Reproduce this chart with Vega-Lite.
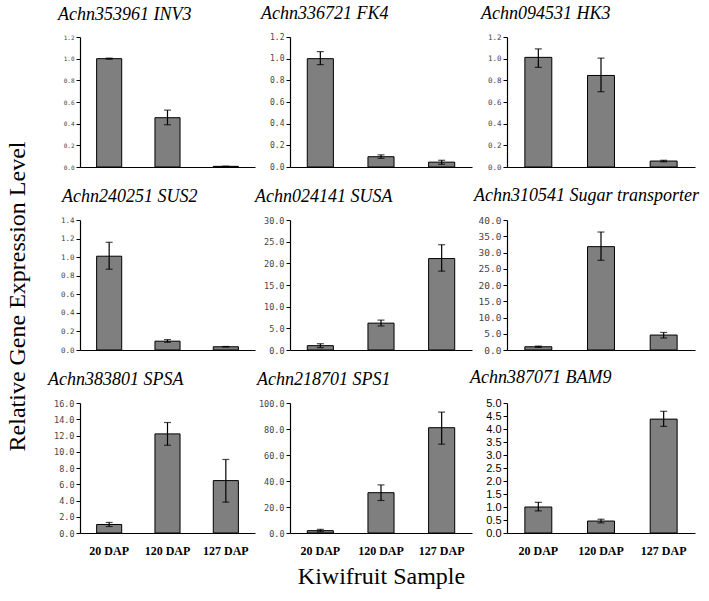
{
  "$schema": "https://vega.github.io/schema/vega-lite/v6.json",
  "background": "white",
  "data": {"values": [
    {"g": "INV3", "s": "20 DAP", "v": 1.0, "lo": 0.995, "hi": 1.005},
    {"g": "INV3", "s": "120 DAP", "v": 0.455, "lo": 0.39, "hi": 0.525},
    {"g": "INV3", "s": "127 DAP", "v": 0.006, "lo": 0.005, "hi": 0.007},
    {"g": "FK4", "s": "20 DAP", "v": 1.0, "lo": 0.945, "hi": 1.065},
    {"g": "FK4", "s": "120 DAP", "v": 0.095, "lo": 0.08, "hi": 0.112},
    {"g": "FK4", "s": "127 DAP", "v": 0.045, "lo": 0.025, "hi": 0.062},
    {"g": "HK3", "s": "20 DAP", "v": 1.012, "lo": 0.92, "hi": 1.09},
    {"g": "HK3", "s": "120 DAP", "v": 0.845, "lo": 0.695, "hi": 1.005},
    {"g": "HK3", "s": "127 DAP", "v": 0.055, "lo": 0.048, "hi": 0.062},
    {"g": "SUS2", "s": "20 DAP", "v": 1.01, "lo": 0.87, "hi": 1.16},
    {"g": "SUS2", "s": "120 DAP", "v": 0.095, "lo": 0.083, "hi": 0.112},
    {"g": "SUS2", "s": "127 DAP", "v": 0.035, "lo": 0.032, "hi": 0.038},
    {"g": "SUSA", "s": "20 DAP", "v": 1.0, "lo": 0.55, "hi": 1.45},
    {"g": "SUSA", "s": "120 DAP", "v": 6.2, "lo": 5.55, "hi": 6.9},
    {"g": "SUSA", "s": "127 DAP", "v": 21.1, "lo": 18.2, "hi": 24.3},
    {"g": "ST", "s": "20 DAP", "v": 1.0, "lo": 0.8, "hi": 1.2},
    {"g": "ST", "s": "120 DAP", "v": 31.8, "lo": 27.6, "hi": 36.3},
    {"g": "ST", "s": "127 DAP", "v": 4.6, "lo": 3.7, "hi": 5.4},
    {"g": "SPSA", "s": "20 DAP", "v": 1.05, "lo": 0.8, "hi": 1.3},
    {"g": "SPSA", "s": "120 DAP", "v": 12.2, "lo": 10.8, "hi": 13.6},
    {"g": "SPSA", "s": "127 DAP", "v": 6.45, "lo": 3.8, "hi": 9.05},
    {"g": "SPS1", "s": "20 DAP", "v": 1.8, "lo": 1.0, "hi": 2.8},
    {"g": "SPS1", "s": "120 DAP", "v": 31.0, "lo": 25.0, "hi": 37.0},
    {"g": "SPS1", "s": "127 DAP", "v": 81.0, "lo": 68.3, "hi": 93.0},
    {"g": "BAM9", "s": "20 DAP", "v": 1.0, "lo": 0.85, "hi": 1.18},
    {"g": "BAM9", "s": "120 DAP", "v": 0.46, "lo": 0.39, "hi": 0.53},
    {"g": "BAM9", "s": "127 DAP", "v": 4.38, "lo": 4.1, "hi": 4.68}
  ]},
  "columns": 3,
  "spacing": {"row": 53, "column": 35},
  "bounds": "flush",
  "concat": [
    {
      "width": 175, "height": 130,
      "title": {"text": "Achn353961 INV3", "dx": -22},
      "transform": [{"filter": "datum.g === 'INV3'"}],
      "resolve": {"axis": {"y": "independent"}},
      "encoding": {"x": {"field": "s", "type": "nominal", "sort": ["20 DAP", "120 DAP", "127 DAP"], "scale": {"paddingInner": 0.57, "paddingOuter": 0.285}, "axis": {"title": null}}},
      "layer": [
        {"mark": {"type": "bar", "fill": "#7f7f7f", "stroke": "black", "strokeWidth": 1}, "encoding": {"y": {"field": "v", "type": "quantitative", "scale": {"domain": [0, 1.2], "nice": false}, "axis": {"title": "Relative Gene Expression Level", "titleFont": "'Liberation Serif', serif", "titleFontSize": 24, "titleFontWeight": "normal", "titleColor": "black", "titlePadding": 34, "titleY": 259, "values": [0, 0.2, 0.4, 0.6, 0.8, 1.0, 1.2], "format": ".1f", "labelFontSize": 6}}}},
        {"mark": {"type": "rule", "color": "black", "strokeWidth": 1.2}, "encoding": {"y": {"field": "lo", "type": "quantitative", "axis": null}, "y2": {"field": "hi"}}},
        {"mark": {"type": "tick", "color": "black", "size": 7, "thickness": 1.2}, "encoding": {"y": {"field": "lo", "type": "quantitative", "axis": null}}},
        {"mark": {"type": "tick", "color": "black", "size": 7, "thickness": 1.2}, "encoding": {"y": {"field": "hi", "type": "quantitative", "axis": null}}}
      ]
    },
    {
      "width": 182, "height": 130,
      "title": {"text": "Achn336721 FK4", "dx": -29},
      "transform": [{"filter": "datum.g === 'FK4'"}],
      "resolve": {"axis": {"y": "independent"}},
      "encoding": {"x": {"field": "s", "type": "nominal", "sort": ["20 DAP", "120 DAP", "127 DAP"], "scale": {"paddingInner": 0.57, "paddingOuter": 0.285}, "axis": {"title": null}}},
      "layer": [
        {"mark": {"type": "bar", "fill": "#7f7f7f", "stroke": "black", "strokeWidth": 1}, "encoding": {"y": {"field": "v", "type": "quantitative", "scale": {"domain": [0, 1.2], "nice": false}, "axis": {"title": null, "values": [0, 0.2, 0.4, 0.6, 0.8, 1.0, 1.2], "format": ".1f", "labelFontSize": 8}}}},
        {"mark": {"type": "rule", "color": "black", "strokeWidth": 1.2}, "encoding": {"y": {"field": "lo", "type": "quantitative", "axis": null}, "y2": {"field": "hi"}}},
        {"mark": {"type": "tick", "color": "black", "size": 7, "thickness": 1.2}, "encoding": {"y": {"field": "lo", "type": "quantitative", "axis": null}}},
        {"mark": {"type": "tick", "color": "black", "size": 7, "thickness": 1.2}, "encoding": {"y": {"field": "hi", "type": "quantitative", "axis": null}}}
      ]
    },
    {
      "width": 188, "height": 130,
      "title": {"text": "Achn094531 HK3", "dx": -26},
      "transform": [{"filter": "datum.g === 'HK3'"}],
      "resolve": {"axis": {"y": "independent"}},
      "encoding": {"x": {"field": "s", "type": "nominal", "sort": ["20 DAP", "120 DAP", "127 DAP"], "scale": {"paddingInner": 0.57, "paddingOuter": 0.285}, "axis": {"title": null}}},
      "layer": [
        {"mark": {"type": "bar", "fill": "#7f7f7f", "stroke": "black", "strokeWidth": 1}, "encoding": {"y": {"field": "v", "type": "quantitative", "scale": {"domain": [0, 1.2], "nice": false}, "axis": {"title": null, "values": [0, 0.2, 0.4, 0.6, 0.8, 1.0, 1.2], "format": ".1f", "labelFontSize": 7.5}}}},
        {"mark": {"type": "rule", "color": "black", "strokeWidth": 1.2}, "encoding": {"y": {"field": "lo", "type": "quantitative", "axis": null}, "y2": {"field": "hi"}}},
        {"mark": {"type": "tick", "color": "black", "size": 7, "thickness": 1.2}, "encoding": {"y": {"field": "lo", "type": "quantitative", "axis": null}}},
        {"mark": {"type": "tick", "color": "black", "size": 7, "thickness": 1.2}, "encoding": {"y": {"field": "hi", "type": "quantitative", "axis": null}}}
      ]
    },
    {
      "width": 175, "height": 130,
      "title": {"text": "Achn240251 SUS2", "dx": -18},
      "transform": [{"filter": "datum.g === 'SUS2'"}],
      "resolve": {"axis": {"y": "independent"}},
      "encoding": {"x": {"field": "s", "type": "nominal", "sort": ["20 DAP", "120 DAP", "127 DAP"], "scale": {"paddingInner": 0.57, "paddingOuter": 0.285}, "axis": {"title": null}}},
      "layer": [
        {"mark": {"type": "bar", "fill": "#7f7f7f", "stroke": "black", "strokeWidth": 1}, "encoding": {"y": {"field": "v", "type": "quantitative", "scale": {"domain": [0, 1.4], "nice": false}, "axis": {"title": null, "values": [0, 0.2, 0.4, 0.6, 0.8, 1.0, 1.2, 1.4], "format": ".1f", "labelFontSize": 7.5}}}},
        {"mark": {"type": "rule", "color": "black", "strokeWidth": 1.2}, "encoding": {"y": {"field": "lo", "type": "quantitative", "axis": null}, "y2": {"field": "hi"}}},
        {"mark": {"type": "tick", "color": "black", "size": 7, "thickness": 1.2}, "encoding": {"y": {"field": "lo", "type": "quantitative", "axis": null}}},
        {"mark": {"type": "tick", "color": "black", "size": 7, "thickness": 1.2}, "encoding": {"y": {"field": "hi", "type": "quantitative", "axis": null}}}
      ]
    },
    {
      "width": 182, "height": 130,
      "title": {"text": "Achn024141 SUSA", "dx": -35},
      "transform": [{"filter": "datum.g === 'SUSA'"}],
      "resolve": {"axis": {"y": "independent"}},
      "encoding": {"x": {"field": "s", "type": "nominal", "sort": ["20 DAP", "120 DAP", "127 DAP"], "scale": {"paddingInner": 0.57, "paddingOuter": 0.285}, "axis": {"title": null}}},
      "layer": [
        {"mark": {"type": "bar", "fill": "#7f7f7f", "stroke": "black", "strokeWidth": 1}, "encoding": {"y": {"field": "v", "type": "quantitative", "scale": {"domain": [0, 30], "nice": false}, "axis": {"title": null, "values": [0, 5, 10, 15, 20, 25, 30], "format": ".1f", "labelFontSize": 8.5}}}},
        {"mark": {"type": "rule", "color": "black", "strokeWidth": 1.2}, "encoding": {"y": {"field": "lo", "type": "quantitative", "axis": null}, "y2": {"field": "hi"}}},
        {"mark": {"type": "tick", "color": "black", "size": 7, "thickness": 1.2}, "encoding": {"y": {"field": "lo", "type": "quantitative", "axis": null}}},
        {"mark": {"type": "tick", "color": "black", "size": 7, "thickness": 1.2}, "encoding": {"y": {"field": "hi", "type": "quantitative", "axis": null}}}
      ]
    },
    {
      "width": 188, "height": 130,
      "title": {"text": "Achn310541 Sugar transporter", "dx": -33},
      "transform": [{"filter": "datum.g === 'ST'"}],
      "resolve": {"axis": {"y": "independent"}},
      "encoding": {"x": {"field": "s", "type": "nominal", "sort": ["20 DAP", "120 DAP", "127 DAP"], "scale": {"paddingInner": 0.57, "paddingOuter": 0.285}, "axis": {"title": null}}},
      "layer": [
        {"mark": {"type": "bar", "fill": "#7f7f7f", "stroke": "black", "strokeWidth": 1}, "encoding": {"y": {"field": "v", "type": "quantitative", "scale": {"domain": [0, 40], "nice": false}, "axis": {"title": null, "values": [0, 5, 10, 15, 20, 25, 30, 35, 40], "format": ".1f", "labelFontSize": 9.5}}}},
        {"mark": {"type": "rule", "color": "black", "strokeWidth": 1.2}, "encoding": {"y": {"field": "lo", "type": "quantitative", "axis": null}, "y2": {"field": "hi"}}},
        {"mark": {"type": "tick", "color": "black", "size": 7, "thickness": 1.2}, "encoding": {"y": {"field": "lo", "type": "quantitative", "axis": null}}},
        {"mark": {"type": "tick", "color": "black", "size": 7, "thickness": 1.2}, "encoding": {"y": {"field": "hi", "type": "quantitative", "axis": null}}}
      ]
    },
    {
      "width": 175, "height": 130,
      "title": {"text": "Achn383801 SPSA", "dx": -32},
      "transform": [{"filter": "datum.g === 'SPSA'"}],
      "resolve": {"axis": {"y": "independent"}},
      "encoding": {"x": {"field": "s", "type": "nominal", "sort": ["20 DAP", "120 DAP", "127 DAP"], "scale": {"paddingInner": 0.57, "paddingOuter": 0.285}, "axis": {"title": null, "labels": true, "labelFont": "'Liberation Serif', serif", "labelFontWeight": "bold", "labelFontSize": 12, "labelColor": "black", "labelPadding": 12, "labelAngle": 0}}},
      "layer": [
        {"mark": {"type": "bar", "fill": "#7f7f7f", "stroke": "black", "strokeWidth": 1}, "encoding": {"y": {"field": "v", "type": "quantitative", "scale": {"domain": [0, 16], "nice": false}, "axis": {"title": null, "values": [0, 2, 4, 6, 8, 10, 12, 14, 16], "format": ".1f", "labelFontSize": 8.5}}}},
        {"mark": {"type": "rule", "color": "black", "strokeWidth": 1.2}, "encoding": {"y": {"field": "lo", "type": "quantitative", "axis": null}, "y2": {"field": "hi"}}},
        {"mark": {"type": "tick", "color": "black", "size": 7, "thickness": 1.2}, "encoding": {"y": {"field": "lo", "type": "quantitative", "axis": null}}},
        {"mark": {"type": "tick", "color": "black", "size": 7, "thickness": 1.2}, "encoding": {"y": {"field": "hi", "type": "quantitative", "axis": null}}}
      ]
    },
    {
      "width": 182, "height": 130,
      "title": {"text": "Achn218701 SPS1", "dx": -33},
      "transform": [{"filter": "datum.g === 'SPS1'"}],
      "resolve": {"axis": {"y": "independent"}},
      "encoding": {"x": {"field": "s", "type": "nominal", "sort": ["20 DAP", "120 DAP", "127 DAP"], "scale": {"paddingInner": 0.57, "paddingOuter": 0.285}, "axis": {"title": "Kiwifruit Sample", "titleFont": "'Liberation Serif', serif", "titleFontSize": 24, "titleFontWeight": "normal", "titleColor": "black", "titlePadding": 8, "labels": true, "labelFont": "'Liberation Serif', serif", "labelFontWeight": "bold", "labelFontSize": 12, "labelColor": "black", "labelPadding": 12, "labelAngle": 0}}},
      "layer": [
        {"mark": {"type": "bar", "fill": "#7f7f7f", "stroke": "black", "strokeWidth": 1}, "encoding": {"y": {"field": "v", "type": "quantitative", "scale": {"domain": [0, 100], "nice": false}, "axis": {"title": null, "values": [0, 20, 40, 60, 80, 100], "format": ".1f", "labelFontSize": 8.5}}}},
        {"mark": {"type": "rule", "color": "black", "strokeWidth": 1.2}, "encoding": {"y": {"field": "lo", "type": "quantitative", "axis": null}, "y2": {"field": "hi"}}},
        {"mark": {"type": "tick", "color": "black", "size": 7, "thickness": 1.2}, "encoding": {"y": {"field": "lo", "type": "quantitative", "axis": null}}},
        {"mark": {"type": "tick", "color": "black", "size": 7, "thickness": 1.2}, "encoding": {"y": {"field": "hi", "type": "quantitative", "axis": null}}}
      ]
    },
    {
      "width": 188, "height": 130,
      "title": {"text": "Achn387071 BAM9", "dx": -37},
      "transform": [{"filter": "datum.g === 'BAM9'"}],
      "resolve": {"axis": {"y": "independent"}},
      "encoding": {"x": {"field": "s", "type": "nominal", "sort": ["20 DAP", "120 DAP", "127 DAP"], "scale": {"paddingInner": 0.57, "paddingOuter": 0.285}, "axis": {"title": null, "labels": true, "labelFont": "'Liberation Serif', serif", "labelFontWeight": "bold", "labelFontSize": 12, "labelColor": "black", "labelPadding": 12, "labelAngle": 0}}},
      "layer": [
        {"mark": {"type": "bar", "fill": "#7f7f7f", "stroke": "black", "strokeWidth": 1}, "encoding": {"y": {"field": "v", "type": "quantitative", "scale": {"domain": [0, 5], "nice": false}, "axis": {"title": null, "values": [0, 0.5, 1, 1.5, 2, 2.5, 3, 3.5, 4, 4.5, 5], "format": ".1f", "labelFont": "Liberation Sans", "labelFontSize": 11, "labelColor": "black"}}}},
        {"mark": {"type": "rule", "color": "black", "strokeWidth": 1.2}, "encoding": {"y": {"field": "lo", "type": "quantitative", "axis": null}, "y2": {"field": "hi"}}},
        {"mark": {"type": "tick", "color": "black", "size": 7, "thickness": 1.2}, "encoding": {"y": {"field": "lo", "type": "quantitative", "axis": null}}},
        {"mark": {"type": "tick", "color": "black", "size": 7, "thickness": 1.2}, "encoding": {"y": {"field": "hi", "type": "quantitative", "axis": null}}}
      ]
    }
  ],
  "config": {
    "view": {"stroke": null},
    "axis": {"grid": false, "domainColor": "black", "tickColor": "black", "domainWidth": 1.2},
    "axisX": {"ticks": false, "labels": false},
    "axisY": {"tickSize": 4, "labelFont": "DejaVu Sans Mono", "labelColor": "#444", "labelPadding": 2, "labelOverlap": false, "labelFlush": false, "labelBound": false},
    "title": {"font": "'Liberation Serif', serif", "fontStyle": "italic", "fontSize": 18, "fontWeight": "normal", "anchor": "start", "frame": "group", "offset": 10, "color": "black"}
  }
}
